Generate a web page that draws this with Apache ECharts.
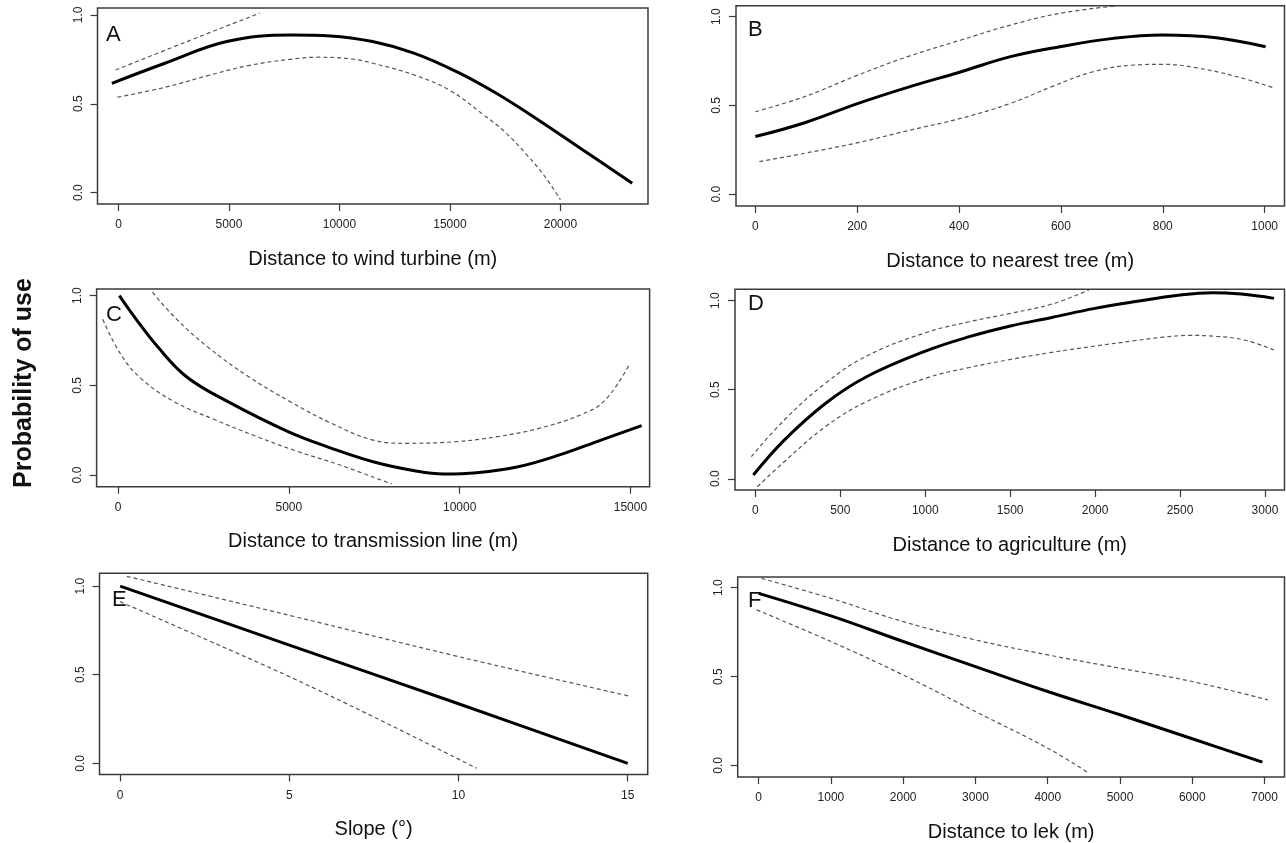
<!DOCTYPE html>
<html>
<head>
<meta charset="utf-8">
<script src="https://cdn.jsdelivr.net/npm/echarts@6/dist/echarts.min.js"></script>
<style>
html,body{margin:0;padding:0;background:#fff;}
#chart{width:1286px;height:843px;}
</style>
</head>
<body>
<div id="chart"></div>
<script>
// ---------- Data ----------
const panelLetters = ['A','B','C','D','E','F'];
const xTitles = ['Distance to wind turbine (m)','Distance to nearest tree (m)','Distance to transmission line (m)','Distance to agriculture (m)','Slope (°)','Distance to lek (m)'];
const yTitle = 'Probability of use';
const yTicks = [0, 0.5, 1];

const A_ticks = [0, 5000, 10000, 15000, 20000];
const A_fit = [[-300,0.615],[2100,0.728],[4900,0.85],[7800,0.887],[9600,0.882],[11500,0.85],[13400,0.784],[15300,0.681],[17100,0.559],[19000,0.409],[20900,0.25],[23250,0.053]];
const A_upper = [[-130,0.69],[3000,0.845],[6385,1.01]];
const A_lower = [[-40,0.537],[2120,0.593],[4000,0.657],[5880,0.715],[7760,0.75],[9070,0.762],[10570,0.752],[11510,0.728],[13390,0.662],[15000,0.575],[16500,0.44],[17500,0.34],[18500,0.21],[19300,0.09],[20000,-0.04]];

const B_ticks = [0, 200, 400, 600, 800, 1000];
const B_fit = [[0,0.325],[97,0.403],[202,0.512],[299,0.602],[404,0.69],[501,0.775],[598,0.831],[703,0.878],[799,0.897],[905,0.882],[1002,0.831]];
const B_upper = [[0,0.465],[97,0.55],[202,0.672],[299,0.775],[404,0.869],[501,0.953],[598,1.019],[711,1.062]];
const B_lower = [[8,0.184],[97,0.231],[202,0.291],[299,0.358],[404,0.428],[501,0.512],[582,0.606],[663,0.69],[744,0.728],[800,0.732],[865,0.713],[946,0.662],[1015,0.602]];

const C_ticks = [0, 5000, 10000, 15000];
const C_fit = [[36,1.0],[546,0.864],[1153,0.716],[2002,0.548],[3216,0.409],[4976,0.242],[6250,0.149],[7464,0.074],[8677,0.024],[9527,0.006],[10498,0.013],[11711,0.046],[12925,0.112],[14139,0.195],[15328,0.275]];
const C_upper = [[1007,1.019],[1638,0.883],[2609,0.716],[3823,0.548],[5036,0.409],[6250,0.288],[7464,0.195],[8435,0.177],[9891,0.186],[11104,0.214],[12318,0.26],[13532,0.335],[14260,0.418],[14988,0.623]];
const C_lower = [[-449,0.868],[61,0.678],[667,0.539],[1638,0.409],[2852,0.307],[4066,0.214],[5279,0.13],[6493,0.056],[8010,-0.05]];

const D_ticks = [0, 500, 1000, 1500, 2000, 2500, 3000];
const D_fit = [[-12,0.021],[170,0.217],[412,0.423],[654,0.573],[1001,0.717],[1260,0.798],[1502,0.858],[1745,0.906],[1999,0.957],[2229,0.994],[2501,1.032],[2690,1.045],[2860,1.037],[3053,1.013]];
const D_upper = [[-24,0.124],[170,0.33],[412,0.536],[654,0.689],[1001,0.82],[1260,0.882],[1502,0.929],[1745,0.981],[1963,1.06]];
const D_lower = [[12,-0.045],[170,0.096],[412,0.292],[654,0.433],[1001,0.564],[1260,0.625],[1502,0.67],[1745,0.71],[1999,0.745],[2229,0.775],[2400,0.795],[2550,0.805],[2714,0.8],[2884,0.778],[3053,0.723]];

const E_ticks = [0, 5, 10, 15];
const E_fit = [[0,1.0],[5,0.667],[10,0.336],[15,0.0]];
const E_upper = [[0.2,1.055],[5,0.835],[10,0.602],[15.1,0.377]];
const E_lower = [[0,0.912],[2.57,0.696],[5,0.489],[7.48,0.263],[10.54,-0.028]];

const F_ticks = [0, 1000, 2000, 3000, 4000, 5000, 6000, 7000];
const F_fit = [[0,0.968],[1000,0.841],[2000,0.697],[3000,0.556],[4000,0.416],[5000,0.285],[6000,0.15],[6970,0.019]];
const F_upper = [[40,1.052],[1000,0.94],[2000,0.809],[3000,0.706],[4000,0.622],[5000,0.547],[6000,0.472],[7045,0.369]];
const F_lower = [[-28,0.875],[1000,0.697],[2000,0.509],[3000,0.303],[4000,0.097],[4567,-0.043]];

// ---------- Layout ----------
const panels = [
  {ticks:A_ticks, fit:A_fit, up:A_upper, lo:A_lower, grid:{left:97.5,top:8,width:550.5,height:196}, x:[-950,23964], y:[-0.064,1.039], letter:[106,24]},
  {ticks:B_ticks, fit:B_fit, up:B_upper, lo:B_lower, grid:{left:736,top:5.7,width:548.5,height:200.3}, x:[-38,1039], y:[-0.066,1.062], letter:[748,19]},
  {ticks:C_ticks, fit:C_fit, up:C_upper, lo:C_lower, grid:{left:96.6,top:289,width:553,height:197.7}, x:[-629,15561], y:[-0.065,1.037], letter:[106,304]},
  {ticks:D_ticks, fit:D_fit, up:D_upper, lo:D_lower, grid:{left:735,top:289.3,width:549.5,height:200.7}, x:[-120,3115], y:[-0.063,1.064], letter:[748,293]},
  {ticks:E_ticks, fit:E_fit, up:E_upper, lo:E_lower, grid:{left:99.5,top:573.3,width:548.2,height:201.2}, x:[-0.61,15.59], y:[-0.063,1.072], letter:[112,589]},
  {ticks:F_ticks, fit:F_fit, up:F_upper, lo:F_lower, grid:{left:737.7,top:577,width:546.8,height:200.3}, x:[-290,7276], y:[-0.065,1.06], letter:[748,590]}
];

const FONT = '"Liberation Sans", Arial, Helvetica, sans-serif';
const grids = [], xAxes = [], yAxes = [], series = [], graphics = [];
panels.forEach((p, i) => {
  grids.push(Object.assign({show:true, borderColor:'#3a3a3a', borderWidth:1.5, backgroundColor:'#fff', containLabel:false}, p.grid));
  xAxes.push({
    type:'value', gridIndex:i, min:p.x[0], max:p.x[1], position:'bottom',
    axisLine:{show:false, onZero:false},
    axisTick:{show:true, length:7, inside:false, customValues:p.ticks, lineStyle:{color:'#3a3a3a', width:1.2}},
    axisLabel:{show:true, customValues:p.ticks, margin:15, fontSize:12, color:'#222', fontFamily:FONT,
      formatter:v => String(v)},
    splitLine:{show:false},
    name:xTitles[i], nameLocation:'middle', nameGap:45,
    nameTextStyle:{fontSize:20, color:'#111', fontFamily:FONT}
  });
  yAxes.push({
    type:'value', gridIndex:i, min:p.y[0], max:p.y[1], position:'left',
    axisLine:{show:false, onZero:false},
    axisTick:{show:true, length:7, inside:false, customValues:yTicks, lineStyle:{color:'#3a3a3a', width:1.2}},
    axisLabel:{show:true, customValues:yTicks, rotate:90, margin:13, fontSize:12, color:'#222', fontFamily:FONT,
      formatter:v => v.toFixed(1)},
    splitLine:{show:false}
  });
  const base = {type:'line', xAxisIndex:i, yAxisIndex:i, showSymbol:false, symbol:'none', smooth:0.4, clip:true, silent:true};
  series.push(Object.assign({}, base, {data:p.up, lineStyle:{color:'#555', width:1.2, type:[4,3]}, z:2}));
  series.push(Object.assign({}, base, {data:p.lo, lineStyle:{color:'#555', width:1.2, type:[4,3]}, z:2}));
  series.push(Object.assign({}, base, {data:p.fit, lineStyle:{color:'#000', width:3}, z:3}));
  graphics.push({type:'text', left:p.letter[0], top:p.letter[1], z:10,
    style:{text:panelLetters[i], fontSize:22, fill:'#111', font:'22px ' + FONT}});
});
graphics.push({type:'text', x:24, y:383, rotation:Math.PI/2, z:10,
  style:{text:yTitle, fill:'#111', font:'bold 25px ' + FONT, textAlign:'center', textVerticalAlign:'middle'}});

const chart = echarts.init(document.getElementById('chart'), null, {renderer:'canvas'});
chart.setOption({
  animation:false,
  backgroundColor:'#fff',
  grid:grids, xAxis:xAxes, yAxis:yAxes, series:series, graphic:graphics
});
</script>
</body>
</html>
